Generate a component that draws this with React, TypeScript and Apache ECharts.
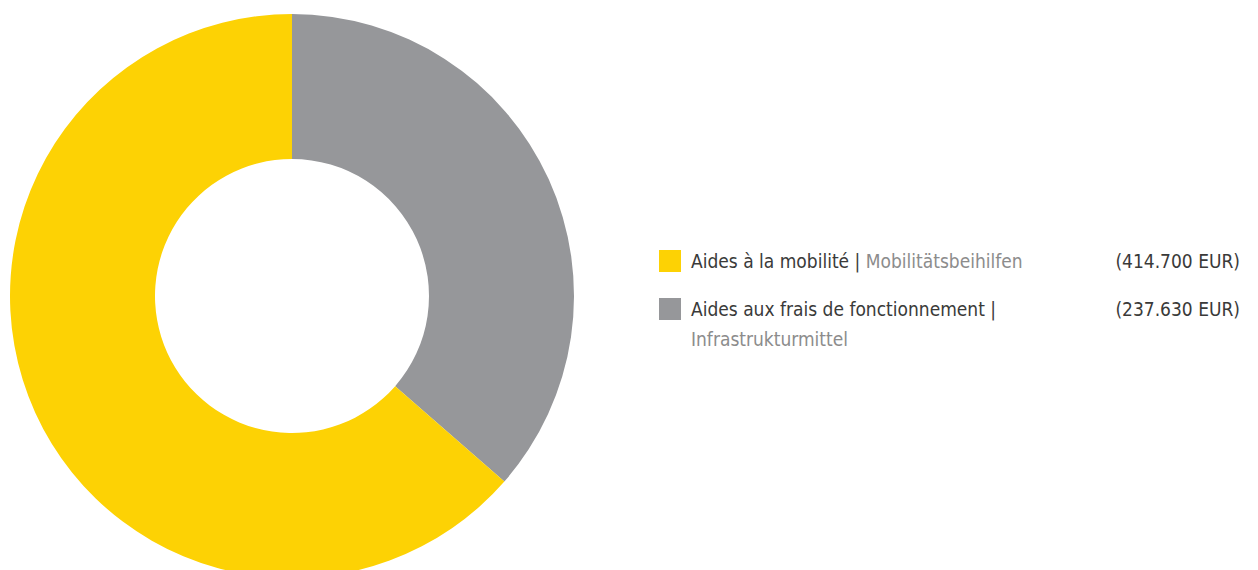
import React, { useEffect, useRef } from "react";
import * as echarts from "echarts";

const namesFr = ["Aides à la mobilité", "Aides aux frais de fonctionnement"];
const namesDe = ["Mobilitätsbeihilfen", "Infrastrukturmittel"];
const values = [414700, 237630];
const amountLabels = ["(414.700 EUR)", "(237.630 EUR)"];
const colors = ["#FDD204", "#96979A"];

const FONT = '"Liberation Sans Narrow", "DejaVu Sans Condensed", "Roboto Condensed", "Liberation Sans", sans-serif';

export default function App() {
  const ref = useRef<HTMLDivElement>(null);
  useEffect(() => {
    if (!ref.current) return;
    const chart = echarts.init(ref.current, undefined, { renderer: "svg" });
    const items = namesFr.map((n, i) => ({
      name: n,
      value: values[i],
      itemStyle: { color: colors[i] },
    }));
    // pie drawn clockwise from top: grey slice first, then yellow
    const pieData = [items[1], items[0]];
    chart.setOption({
      animation: false,
      backgroundColor: "#ffffff",
      legend: {
        orient: "vertical",
        left: 659,
        top: 250,
        padding: 0,
        itemWidth: 22,
        itemHeight: 22,
        itemGap: 26,
        icon: "rect",
        selectedMode: false,
        data: namesFr,
        formatter: (name: string) => {
          const i = namesFr.indexOf(name);
          return i === 0
            ? `{a|${name} |} {b|${namesDe[0]}}`
            : `{a|${name} |}`;
        },
        textStyle: {
          fontFamily: FONT,
          fontSize: 19,
          padding: [0, 0, 0, 5],
          rich: {
            a: { fontFamily: FONT, fontSize: 19, color: "#3a3a39" },
            b: { fontFamily: FONT, fontSize: 19, color: "#8c8c8c" },
          },
        },
      },
      graphic: [
        {
          type: "text",
          x: 691,
          y: 339,
          style: {
            text: namesDe[1],
            fontFamily: FONT,
            fontSize: 19,
            fill: "#8c8c8c",
            textVerticalAlign: "middle",
          },
        },
        ...amountLabels.map((t, i) => ({
          type: "text",
          x: 1240,
          y: 261 + i * 48,
          style: {
            text: t,
            fontFamily: FONT,
            fontSize: 19,
            fill: "#3a3a39",
            textAlign: "right",
            textVerticalAlign: "middle",
          },
        })),
      ],
      series: [
        {
          type: "pie",
          center: [292, 296],
          radius: [137, 282],
          startAngle: 90,
          clockwise: true,
          label: { show: false },
          labelLine: { show: false },
          emphasis: { disabled: true },
          itemStyle: { borderWidth: 0 },
          data: pieData,
        },
      ],
    });
    return () => chart.dispose();
  }, []);
  return (
    <div
      ref={ref}
      style={{ position: "fixed", left: 0, top: 0, width: 1258, height: 570 }}
    />
  );
}
